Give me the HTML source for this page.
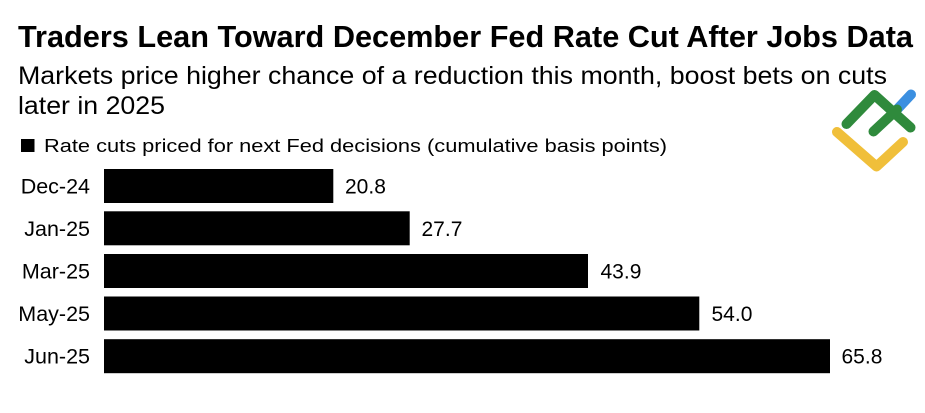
<!DOCTYPE html>
<html>
<head>
<meta charset="utf-8">
<style>
html,body{margin:0;padding:0;background:#fff;}
body{width:925px;height:413px;overflow:hidden;}
svg{display:block;}
text{font-family:"Liberation Sans",Arial,sans-serif;fill:#000;}
</style>
</head>
<body>
<svg width="925" height="413" viewBox="0 0 925 413" xmlns="http://www.w3.org/2000/svg">
  <rect width="925" height="413" fill="#fff"/>
  <text x="18" y="47" font-size="31" font-weight="bold" textLength="895" lengthAdjust="spacingAndGlyphs">Traders Lean Toward December Fed Rate Cut After Jobs Data</text>
  <text x="18" y="84" font-size="25" textLength="869" lengthAdjust="spacingAndGlyphs">Markets price higher chance of a reduction this month, boost bets on cuts</text>
  <text x="18" y="114" font-size="25" textLength="147" lengthAdjust="spacingAndGlyphs">later in 2025</text>

  <rect x="21" y="139" width="13.5" height="13" fill="#000"/>
  <text x="44" y="152" font-size="18.5" textLength="623" lengthAdjust="spacingAndGlyphs">Rate cuts priced for next Fed decisions (cumulative basis points)</text>

  <!-- bars -->
  <rect x="104" y="169" width="229.3" height="34" fill="#000"/>
  <rect x="104" y="211.3" width="305.7" height="34" fill="#000"/>
  <rect x="104" y="254" width="484" height="34" fill="#000"/>
  <rect x="104" y="296.5" width="595.3" height="34" fill="#000"/>
  <rect x="104" y="339.2" width="726" height="34" fill="#000"/>

  <g font-size="21.5" text-anchor="end">
    <text x="90" y="193.5">Dec-24</text>
    <text x="90" y="236">Jan-25</text>
    <text x="90" y="278.5">Mar-25</text>
    <text x="90" y="321">May-25</text>
    <text x="90" y="363.5">Jun-25</text>
  </g>
  <g font-size="21">
    <text x="345" y="193.5">20.8</text>
    <text x="421.5" y="236">27.7</text>
    <text x="600.5" y="278.5">43.9</text>
    <text x="711.5" y="321">54.0</text>
    <text x="841.5" y="363.5">65.8</text>
  </g>

  <!-- logo -->
  <g fill="none" stroke-linecap="round" stroke-linejoin="round" stroke-width="10">
    <polyline points="837,132 876.5,166.5 903,142" stroke="#f0bf3a"/>
    <line x1="897" y1="109.5" x2="911" y2="94.5" stroke="#3b8fe0"/>
    <polyline points="846.5,124 874.5,95 910.5,127.5" stroke="#2f8a3c"/>
    <line x1="873.5" y1="131.5" x2="897" y2="109.5" stroke="#2f8a3c"/>
  </g>
</svg>
</body>
</html>
